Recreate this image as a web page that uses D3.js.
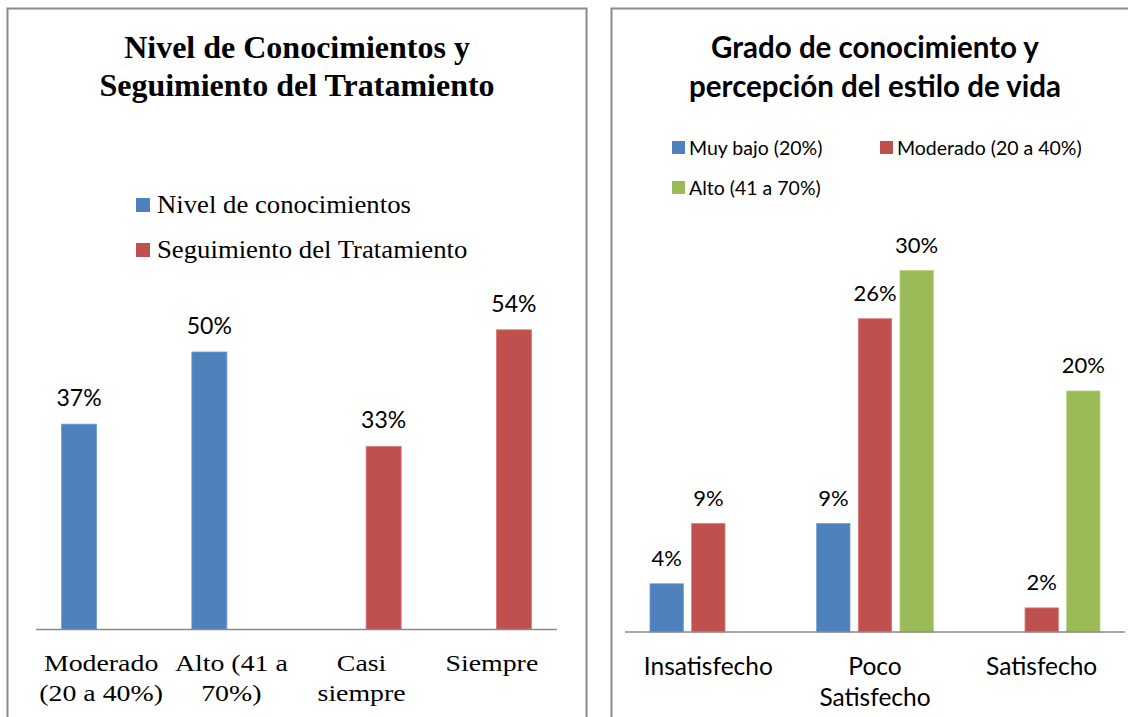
<!DOCTYPE html>
<html>
<head>
<meta charset="utf-8">
<script src="https://cdn.jsdelivr.net/npm/d3@7"></script>
<style>
  body { margin: 0; background: #fff; }
  svg { display: block; }
</style>
</head>
<body>
<div id="chart"></div>
<script>
// datos del grafico izquierdo
const left_categories = [["Moderado", "(20 a 40%)"], ["Alto (41 a", "70%)"], ["Casi", "siempre"], ["Siempre"]];
const left_series = ["Nivel de conocimientos", "Seguimiento del Tratamiento"];
const left_values = [
    [37, 50, null, null],   // Nivel de conocimientos
    [null, null, 33, 54]    // Seguimiento del Tratamiento
];

// datos del grafico derecho
const right_categories = [["Insatisfecho"], ["Poco", "Satisfecho"], ["Satisfecho"]];
const right_series = ["Muy bajo (20%)", "Moderado (20 a 40%)", "Alto (41 a 70%)"];
const right_values = [
    [4, 9, null],    // Muy bajo
    [9, 26, 2],      // Moderado
    [null, 30, 20]   // Alto
];

const colors = ["#4F81BD", "#C0504D", "#9BBB59"];
const edge_colors = ["#6f9bd1", "#d77b79", "#b5d07e"];

const width = 1128;
const height = 717;

var svg = d3.select("#chart").append("svg")
    .attr("width", width).attr("height", height);

const serif = "'Liberation Serif', 'Times New Roman', serif";
const sans = "Lato, 'Open Sans', sans-serif";

// marcos
svg.append("rect")
    .attr("x", 7.5).attr("y", 8.5).attr("width", 579).attr("height", 720)
    .attr("fill", "none").attr("stroke", "#8a8a8a").attr("stroke-width", 2);
svg.append("rect")
    .attr("x", 611.5).attr("y", 8.5).attr("width", 540).attr("height", 720)
    .attr("fill", "none").attr("stroke", "#8a8a8a").attr("stroke-width", 2);

// estira el texto en horizontal alrededor de cx
function stretch(cx, sx) {
    return "translate(" + cx + ",0) scale(" + sx + ",1) translate(" + (-cx) + ",0)";
}

function draw_panel(opts) {
    let g = svg.append("g");

    let x0 = d3.scaleBand()
        .domain(d3.range(opts.categories.length))
        .range([opts.x_start, opts.x_end])
        .paddingInner(opts.outer_pad)
        .paddingOuter(opts.outer_pad / 2);
    let x1 = d3.scaleBand()
        .domain(d3.range(opts.series.length))
        .range([0, x0.bandwidth()])
        .paddingInner(opts.inner_pad);
    let y = d3.scaleLinear()
        .domain([0, opts.y_max])
        .range([opts.y_base, opts.y_base - opts.px_per_unit * opts.y_max]);

    // titulo
    g.append("text")
        .attr("text-anchor", "middle")
        .attr("font-family", opts.title_font)
        .attr("font-weight", "bold")
        .attr("font-size", opts.title_size)
        .attr("fill", "#000")
        .selectAll("tspan")
        .data(opts.title)
        .enter()
        .append("tspan")
        .attr("x", opts.title_x)
        .attr("y", (d, i) => opts.title_y + i * opts.title_lh)
        .text(d => d);

    // leyenda
    let legend = g.append("g")
        .selectAll("g")
        .data(opts.series)
        .enter()
        .append("g")
        .attr("transform", (d, i) => "translate(" + opts.legend_pos[i][0] + "," + opts.legend_pos[i][1] + ")");
    legend.append("rect")
        .attr("x", 0).attr("y", -opts.legend_box - opts.legend_box_dy)
        .attr("width", opts.legend_box).attr("height", opts.legend_box)
        .attr("fill", (d, i) => colors[i]);
    legend.append("text")
        .attr("x", opts.legend_box + opts.legend_gap)
        .attr("y", 0)
        .attr("transform", stretch(opts.legend_box + opts.legend_gap, opts.legend_sx))
        .attr("font-family", opts.legend_font)
        .attr("font-size", opts.legend_size)
        .attr("fill", "#000")
        .text(d => d);

    // barras
    let bars = [];
    opts.values.forEach(function (vals, s) {
        vals.forEach(function (v, c) {
            if (v !== null) bars.push({s: s, c: c, v: v});
        });
    });

    g.append("g")
        .selectAll("rect")
        .data(bars)
        .enter()
        .append("rect")
        .attr("x", d => x0(d.c) + x1(d.s))
        .attr("y", d => y(d.v))
        .attr("width", x1.bandwidth())
        .attr("height", d => y(0) - y(d.v))
        .attr("fill", d => colors[d.s])
        .attr("stroke", d => edge_colors[d.s])
        .attr("stroke-width", 0.8);

    // etiquetas de valores
    g.append("g")
        .selectAll("text")
        .data(bars)
        .enter()
        .append("text")
        .attr("x", d => x0(d.c) + x1(d.s) + x1.bandwidth() / 2)
        .attr("y", d => y(d.v) - 18)
        .attr("text-anchor", "middle")
        .attr("font-family", sans)
        .attr("font-size", opts.value_size)
        .attr("fill", "#000")
        .text(d => d.v + "%");

    // eje
    g.append("line")
        .attr("x1", opts.x_start).attr("x2", opts.x_end)
        .attr("y1", y(0)).attr("y2", y(0))
        .attr("stroke", "#8a8a8a").attr("stroke-width", 1.5);

    g.append("g")
        .selectAll("text")
        .data(opts.categories)
        .enter()
        .append("text")
        .attr("text-anchor", "middle")
        .attr("transform", (d, c) => stretch(x0(c) + x0.bandwidth() / 2, opts.axis_sx))
        .attr("font-family", opts.axis_font)
        .attr("font-size", opts.axis_size)
        .attr("fill", "#000")
        .each(function (d, c) {
            d3.select(this).selectAll("tspan")
                .data(d)
                .enter()
                .append("tspan")
                .attr("x", x0(c) + x0.bandwidth() / 2)
                .attr("y", (t, i) => opts.axis_y + i * opts.axis_lh)
                .text(t => t);
        });
}

draw_panel({
    categories: left_categories,
    series: left_series,
    values: left_values,
    x_start: 36, x_end: 557,
    outer_pad: 0.393, inner_pad: 0.2045,
    y_base: 629.5, y_max: 60, px_per_unit: 5.55,
    title: ["Nivel de Conocimientos y", "Seguimiento del Tratamiento"],
    title_font: serif, title_size: 32, title_x: 297, title_y: 58, title_lh: 38,
    legend_pos: [[136, 213], [136, 258]],
    legend_box: 14, legend_box_dy: 1, legend_gap: 7,
    legend_font: serif, legend_size: 25, legend_sx: 1.07,
    value_size: 23,
    axis_font: serif, axis_size: 24, axis_sx: 1.16, axis_y: 671, axis_lh: 30
});

draw_panel({
    categories: right_categories,
    series: right_series,
    values: right_values,
    x_start: 625, x_end: 1125,
    outer_pad: 0.3, inner_pad: 0.2,
    y_base: 632, y_max: 35, px_per_unit: 12.05,
    title: ["Grado de conocimiento y", "percepción del estilo de vida"],
    title_font: sans, title_size: 29.5, title_x: 875, title_y: 58, title_lh: 39,
    legend_pos: [[672, 155], [880, 155], [672, 195]],
    legend_box: 13, legend_box_dy: 1, legend_gap: 4,
    legend_font: sans, legend_size: 19.5, legend_sx: 1,
    value_size: 22,
    axis_font: sans, axis_size: 24.5, axis_sx: 1, axis_y: 675, axis_lh: 31
});
</script>
</body>
</html>
